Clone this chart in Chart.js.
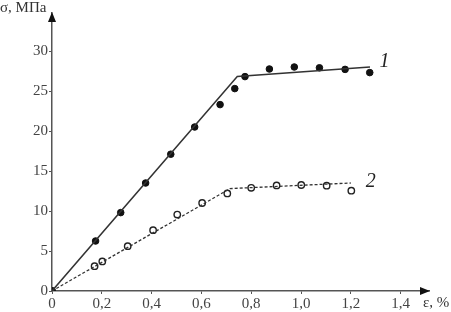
<!DOCTYPE html>
<html>
<head>
<meta charset="utf-8">
<script src="https://cdn.jsdelivr.net/npm/chart.js@4"></script>
<style>
  html, body { margin: 0; padding: 0; background: #fff; overflow: hidden; }
  #c { display: block; }
</style>
</head>
<body>
<canvas id="c" width="451" height="312" style="width:451px;height:312px"></canvas>
<script>
// measured points, curve 1 (filled circles)
const strain1 = [0, 0.175, 0.276, 0.376, 0.477, 0.573, 0.675, 0.734, 0.775, 0.873, 0.973, 1.074, 1.177, 1.276];
const stress1 = [0, 6.25, 9.8, 13.5, 17.1, 20.5, 23.3, 25.3, 26.8, 27.75, 28.0, 27.9, 27.7, 27.3];
// fit line, curve 1
const fitStrain1 = [0, 0.744, 1.277];
const fitStress1 = [0, 26.8, 28.0];

// measured points, curve 2 (open circles)
const strain2 = [0, 0.171, 0.202, 0.304, 0.406, 0.503, 0.603, 0.704, 0.800, 0.902, 1.001, 1.103, 1.202];
const stress2 = [0, 3.1, 3.7, 5.6, 7.6, 9.55, 11.0, 12.2, 12.9, 13.2, 13.25, 13.16, 12.54];
// fit line, curve 2
const fitStrain2 = [0, 0.715, 1.2];
const fitStress2 = [0, 12.8, 13.5];

// ticks
const xTicks = [0, 0.2, 0.4, 0.6, 0.8, 1.0, 1.2, 1.4];
const xTickLabels = ['0', '0,2', '0,4', '0,6', '0,8', '1,0', '1,2', '1,4'];
const yTicks = [0, 5, 10, 15, 20, 25, 30];
const yTickLabels = ['0', '5', '10', '15', '20', '25', '30'];

const yTitle = 'σ, МПа';
const xTitle = 'ε, %';
const curveLabels = [{text: '1', x: 1.335, y: 28.6}, {text: '2', x: 1.28, y: 13.6}];

const pts = (xs, ys) => xs.map((x, i) => ({x: x, y: ys[i]}));

const AXIS = '#555';
const FONT = "'Liberation Serif', 'DejaVu Serif', serif";

const decor = {
  id: 'decor',
  afterDraw(chart) {
    const ctx = chart.ctx;
    const xs = chart.scales.x, ys = chart.scales.y;
    const x0 = xs.getPixelForValue(0), y0 = ys.getPixelForValue(0);
    const xr = xs.right, yt = ys.top;
    ctx.save();
    ctx.fillStyle = '#111';
    // x arrow
    ctx.beginPath();
    ctx.moveTo(xr + 1, y0);
    ctx.lineTo(xr - 9, y0 - 4);
    ctx.lineTo(xr - 9, y0 + 4);
    ctx.closePath();
    ctx.fill();
    // y arrow
    ctx.beginPath();
    ctx.moveTo(x0, yt - 1);
    ctx.lineTo(x0 - 4, yt + 9);
    ctx.lineTo(x0 + 4, yt + 9);
    ctx.closePath();
    ctx.fill();
    // axis titles
    ctx.fillStyle = '#333';
    ctx.font = '15px ' + FONT;
    ctx.textBaseline = 'alphabetic';
    ctx.textAlign = 'left';
    ctx.fillText(yTitle, 0, 12);
    ctx.fillText(xTitle, 423, 307);
    // curve labels
    ctx.font = 'italic 20px ' + FONT;
    ctx.textAlign = 'center';
    ctx.textBaseline = 'middle';
    ctx.fillStyle = '#222';
    curveLabels.forEach(l => {
      ctx.fillText(l.text, xs.getPixelForValue(l.x), ys.getPixelForValue(l.y));
    });
    ctx.restore();
  }
};

new Chart(document.getElementById('c'), {
  type: 'scatter',
  data: {
    datasets: [
      {
        data: pts(fitStrain1, fitStress1), showLine: true, borderColor: '#333', borderWidth: 1.5,
        pointRadius: 0, fill: false
      },
      {
        data: pts(fitStrain2, fitStress2), showLine: true, borderColor: '#333', borderWidth: 1.3,
        borderDash: [3, 2], pointRadius: 0, fill: false
      },
      {
        data: pts(strain1, stress1), showLine: false, pointRadius: 3.3,
        pointBackgroundColor: '#111', pointBorderColor: '#111', pointBorderWidth: 1
      },
      {
        data: pts(strain2, stress2), showLine: false, pointRadius: 3.2,
        pointBackgroundColor: '#fff', pointBorderColor: '#222', pointBorderWidth: 1.4
      }
    ]
  },
  options: {
    responsive: false,
    animation: false,
    devicePixelRatio: 1,
    layout: { padding: { top: 13, right: 22, left: 0, bottom: 0 } },
    plugins: { legend: { display: false }, tooltip: { enabled: false } },
    scales: {
      x: {
        type: 'linear', min: 0, max: 1.514,
        afterBuildTicks: s => { s.ticks = xTicks.map(v => ({value: v})); },
        afterFit: s => { s.height = 21; },
        grid: { drawOnChartArea: false, drawTicks: true, tickLength: 3, color: AXIS },
        border: { display: true, color: AXIS, width: 1.5 },
        ticks: {
          padding: 1, color: '#444', font: { family: FONT, size: 15 },
          maxRotation: 0, autoSkip: false,
          callback: (v) => { const i = xTicks.findIndex(t => Math.abs(t - v) < 1e-6); return i >= 0 ? xTickLabels[i] : ''; }
        }
      },
      y: {
        type: 'linear', min: 0, max: 34.75,
        afterBuildTicks: s => { s.ticks = yTicks.map(v => ({value: v})); },
        afterFit: s => { s.width = 52; },
        grid: { drawOnChartArea: false, drawTicks: true, tickLength: 3, color: AXIS },
        border: { display: true, color: AXIS, width: 1.5 },
        ticks: {
          padding: 1, color: '#444', font: { family: FONT, size: 15 }, autoSkip: false,
          callback: (v) => { const i = yTicks.findIndex(t => Math.abs(t - v) < 1e-6); return i >= 0 ? yTickLabels[i] : ''; }
        }
      }
    }
  },
  plugins: [decor]
});
</script>
</body>
</html>
